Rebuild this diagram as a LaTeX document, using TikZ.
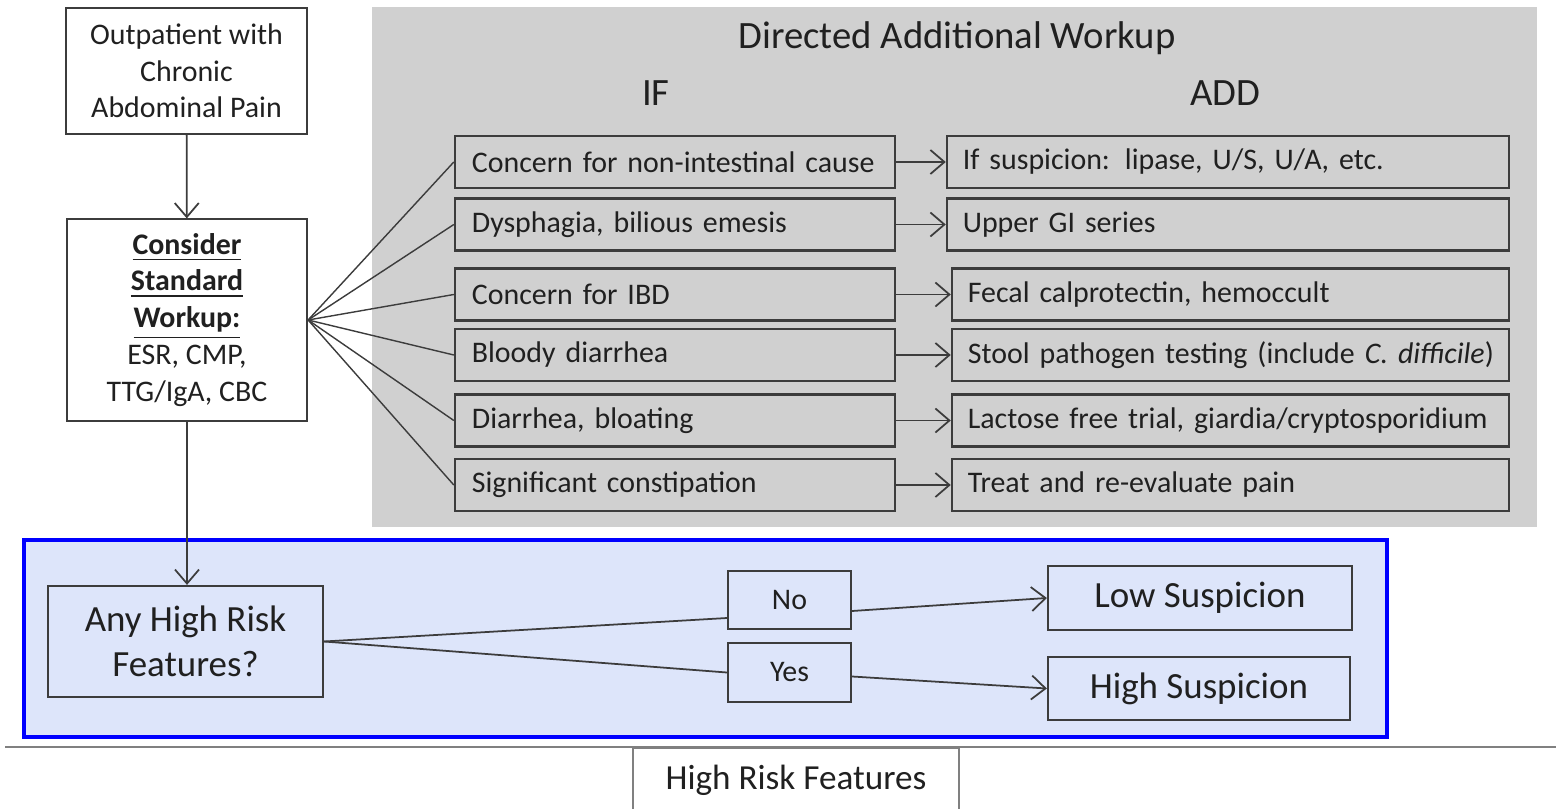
\documentclass[tikz,border=0pt]{standalone}
\usepackage{fontspec}
\setmainfont{Carlito}
\usetikzlibrary{arrows.meta, positioning, calc}
\definecolor{workupgray}{HTML}{D0D0D0}
\definecolor{boxline}{HTML}{3C3C3C}
\definecolor{riskfill}{HTML}{DDE5FA}
\definecolor{riskblue}{HTML}{0000FF}
\definecolor{inktext}{HTML}{202020}

\begin{document}
\begin{tikzpicture}[x=0.01cm, y=-0.01cm, >={Straight Barb[length=1.4mm,width=2.4mm]},
  box/.style={draw=boxline, line width=0.6pt, rectangle, align=center, text=inktext, font=\fontsize{8.5}{10.4}\selectfont},
  ifbox/.style={box, text width=4.06cm, inner xsep=0.17cm, inner ysep=0pt, minimum height=0.52cm, align=left},
  addbox/.style={box, text width=#1, inner xsep=0.16cm, inner ysep=0pt, minimum height=0.52cm, align=left},
  riskbox/.style={box, fill=riskfill, font=\fontsize{10.5}{12.8}\selectfont},
  title/.style={text=inktext, font=\fontsize{11}{13}\selectfont},
  link/.style={draw=boxline, line width=0.5pt},
  fan/.style={draw=boxline, line width=0.4pt}]
\useasboundingbox (0,0) rectangle (1556,809);

% Backgrounds
\fill[workupgray] (372,7) rectangle (1537,527);
\draw[riskblue, line width=1.1pt, fill=riskfill] (24,540) rectangle (1387,737);
\draw[gray, line width=0.8pt] (5,747) -- (1556,747);

% Titles
\node[title] (workup) at (957,38) {Directed Additional Workup};
\node[title] (iftitle) at (656,93) {IF};
\node[title] (addtitle) at (1225,93) {ADD};

% Nodes
\node[box, minimum width=2.41cm, minimum height=1.26cm] (start) at (186.5,71) {Outpatient with\\Chronic\\Abdominal Pain};
\node[box, minimum width=2.4cm, minimum height=2.01cm, font=\fontsize{8.5}{10.5}\selectfont] (std) at (187,320)
  {\underline{\textbf{Consider}}\\\underline{\textbf{Standard}}\\\underline{\textbf{Workup:}}\\ESR, CMP,\\TTG/IgA, CBC};

\node[ifbox] (if1) at (675,162) {Concern for non-intestinal cause};
\node[ifbox] (if2) at (675,224.5) {Dysphagia, bilious emesis};
\node[ifbox] (if3) at (675,294.5) {Concern for IBD};
\node[ifbox] (if4) at (675,355) {Bloody diarrhea};
\node[ifbox] (if5) at (675,420.5) {Diarrhea, bloating};
\node[ifbox] (if6) at (675,485) {Significant constipation};

\node[addbox=5.3cm] (add1) at (1228,162) {If suspicion: lipase, U/S, U/A, etc.};
\node[addbox=5.3cm] (add2) at (1228,224.5) {Upper GI series};
\node[addbox=5.25cm] (add3) at (1230.5,294.5) {Fecal calprotectin, hemoccult};
\node[addbox=5.25cm] (add4) at (1230.5,355) {\mbox{Stool pathogen testing (include \textit{C. difficile})}};
\node[addbox=5.25cm] (add5) at (1230.5,420.5) {Lactose free trial, giardia/cryptosporidium};
\node[addbox=5.25cm] (add6) at (1230.5,485) {Treat and re-evaluate pain};

\node[riskbox, minimum width=2.75cm, minimum height=1.11cm] (any) at (185.5,641.5) {Any High Risk\\Features?};
\node[box, fill=riskfill, minimum width=1.23cm, minimum height=0.58cm, font=\fontsize{8.5}{10}\selectfont] (no) at (789.5,600) {No};
\node[box, fill=riskfill, minimum width=1.23cm, minimum height=0.59cm, font=\fontsize{8.5}{10}\selectfont] (yes) at (789.5,672.5) {Yes};
\node[riskbox, minimum width=3.04cm, minimum height=0.64cm] (low) at (1200,598) {Low Suspicion};
\node[riskbox, minimum width=3.02cm, minimum height=0.63cm] (high) at (1199,688.5) {High Suspicion};

\node[draw=gray, line width=0.5pt, minimum width=3.26cm, minimum height=0.64cm, text=inktext, font=\fontsize{10}{12}\selectfont,
  anchor=north] (hrf) at (796,747) {High Risk Features};

% Connectors
\draw[->, link] (start) -- (std);
\draw[->, link] (std.south) -- (std.south |- any.north);
\foreach \i in {1,...,6} {
  \draw[fan] (std.east) -- (if\i.west);
  \draw[->, link] (if\i) -- (add\i);
}
\draw[link] (any.east) -- ([yshift=-0.18cm]no.west);
\draw[link] (any.east) -- (yes.west);
\draw[->, link] ([yshift=-0.11cm]no.east) -- (low.west);
\draw[->, link] ([yshift=-0.04cm]yes.east) -- (high.west);
\end{tikzpicture}
\end{document}
